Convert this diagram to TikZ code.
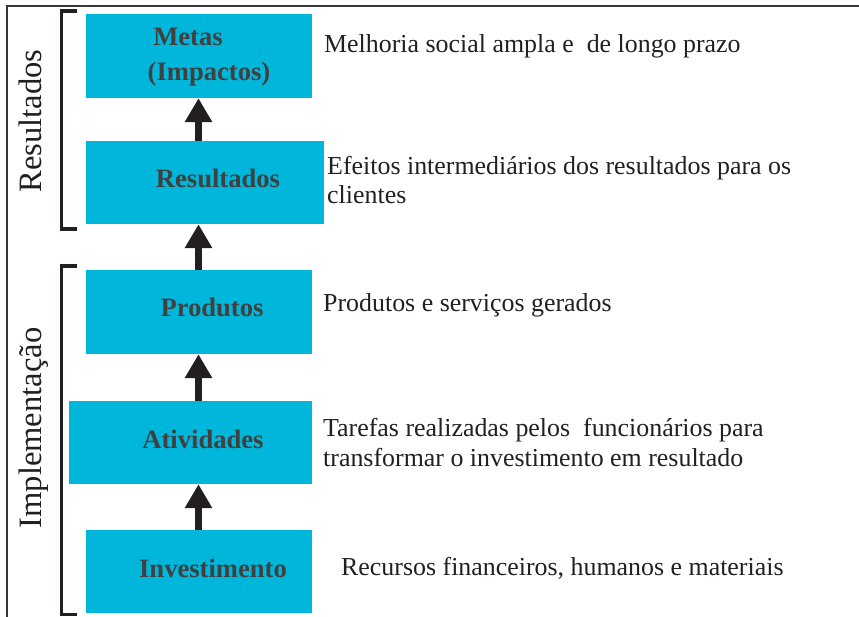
\documentclass[tikz,border=0pt]{standalone}
\usepackage{fontspec}
\setmainfont{Liberation Serif}
\usetikzlibrary{arrows.meta}
\definecolor{boxcyan}{RGB}{0,182,218}
\definecolor{labgray}{RGB}{64,64,64}
\definecolor{inkdark}{RGB}{35,31,32}
\definecolor{framegray}{RGB}{55,55,55}
\tikzset{
  stagebox/.style={draw=none, fill=boxcyan, inner sep=0pt},
  stagelabel/.style={anchor=base, inner sep=0pt, text=labgray, font=\fontsize{26.6}{30}\selectfont\bfseries},
  desc/.style={anchor=base west, inner sep=0pt, text=inkdark, font=\fontsize{25.9}{30}\selectfont},
  sidelabel/.style={anchor=base, inner sep=0pt, rotate=90, text=inkdark, font=\fontsize{32.6}{36}\selectfont},
  uparrow/.style={draw=inkdark, line width=7pt, -{Triangle[length=24pt,width=26pt]}},
  bracket/.style={draw=inkdark, line width=3.2pt},
  frameline/.style={draw=framegray, line width=2pt}
}
\begin{document}
\begin{tikzpicture}[x=1pt,y=-1pt]
\useasboundingbox (0,0) rectangle (859,617);
% frame
\draw[frameline] (7,617) -- (7,6) -- (859,6);
% boxes
\node[stagebox, minimum width=226pt, minimum height=84pt] (metas) at (199,56) {};
\node[stagebox, minimum width=238pt, minimum height=83pt] (res) at (205,182.5) {};
\node[stagebox, minimum width=226pt, minimum height=84pt] (prod) at (199,312) {};
\node[stagebox, minimum width=243pt, minimum height=83pt] (ativ) at (190.5,442.5) {};
\node[stagebox, minimum width=226pt, minimum height=83pt] (inv) at (199,571.5) {};
% labels in boxes
\node[stagelabel] (lmetas) at (188,46) {Metas};
\node[stagelabel] (limp) at (209,81) {(Impactos)};
\node[stagelabel] (lres) at (218,188) {Resultados};
\node[stagelabel] (lprod) at (212,317) {Produtos};
\node[stagelabel] (lativ) at (203,448) {Atividades};
\node[stagelabel] (linv) at (213,577) {Investimento};
% arrows
\coordinate (axis) at (198.5,0);
\draw[uparrow] (inv.north -| axis) -- (ativ.south -| axis);
\draw[uparrow] (ativ.north -| axis) -- (prod.south -| axis);
\draw[uparrow] (prod.north -| axis) -- (res.south -| axis);
\draw[uparrow] (res.north -| axis) -- (metas.south -| axis);
% descriptions
\node[desc] (d1) at (324,53) {Melhoria social ampla e~ de longo prazo};
\node[desc] (d2a) at (327,175) {Efeitos intermediários dos resultados para os};
\node[desc] (d2b) at (327,204) {clientes};
\node[desc] (d3) at (323,312) {Produtos e serviços gerados};
\node[desc] (d4a) at (323,436) {Tarefas realizadas pelos~ funcionários para};
\node[desc] (d4b) at (323,466) {transformar o investimento em resultado};
\node[desc] (d5) at (341,575) {Recursos financeiros, humanos e materiais};
% brackets
\draw[bracket] (77,11) -- (61.5,11) -- (61.5,229) -- (77,229);
\draw[bracket] (77,266) -- (61.5,266) -- (61.5,614.5) -- (77,614.5);
% side labels
\node[sidelabel] (sres) at (41,121) {Resultados};
\node[sidelabel] (simp) at (41,428) {Implementação};
\end{tikzpicture}
\end{document}
